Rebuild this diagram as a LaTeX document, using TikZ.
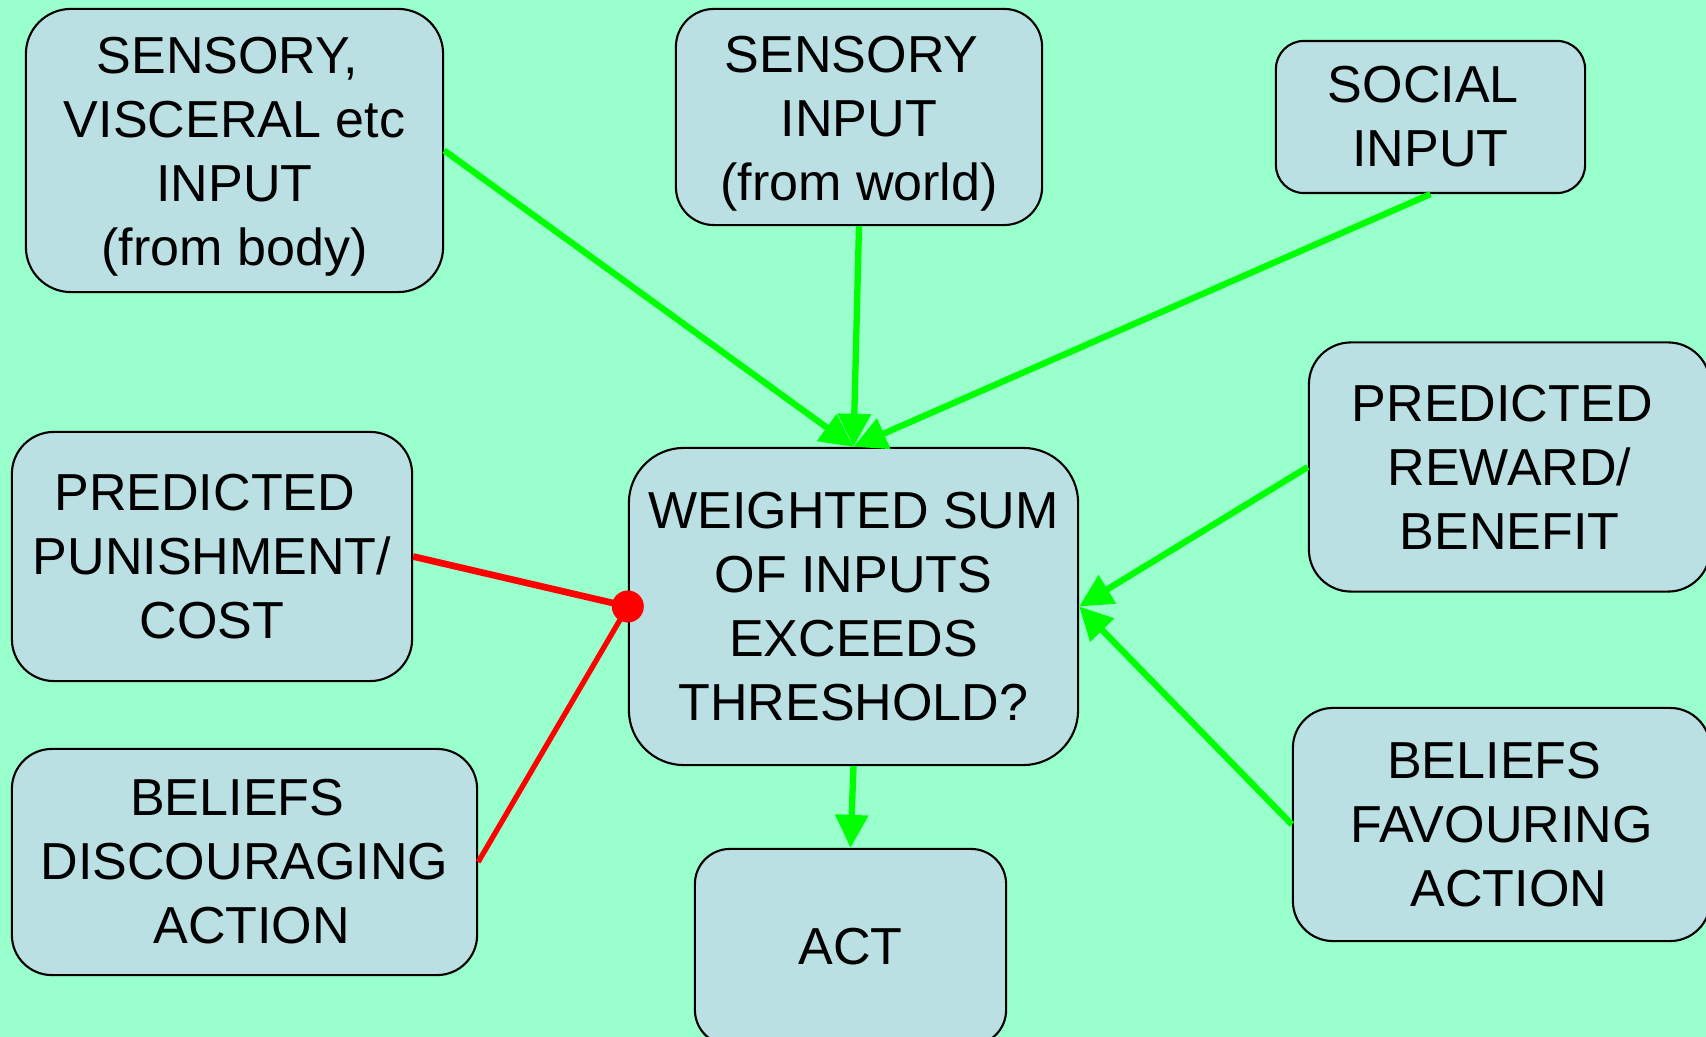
\documentclass[tikz,border=0pt]{standalone}
\usepackage{fontspec}
\setmainfont{Liberation Sans}
\usetikzlibrary{arrows.meta}
\definecolor{bg}{HTML}{99FFCC}
\definecolor{boxfill}{HTML}{BBE0E3}
\definecolor{arrgreen}{HTML}{00FF00}
\definecolor{inhred}{HTML}{FF0000}
\newcommand{\tsp}{\hspace*{0.278em}}
\begin{document}
\begin{tikzpicture}[x=0.01cm,y=-0.01cm,
  box/.style={draw=black, line width=0.6pt, fill=boxfill, align=center,
    font=\fontsize{14.8}{18.2}\selectfont, inner sep=0pt},
  boxtext/.style={align=center, font=\fontsize{14.8}{18.2}\selectfont, inner sep=0pt},
  garrow/.style={draw=arrgreen, line width=1.8pt, -{Triangle[length=3.3mm,width=3.2mm]}},
  rline/.style={draw=inhred, line width=1.8pt},
  dotstyle/.style={circle, fill=inhred, minimum size=0.32cm, inner sep=0pt}]
\useasboundingbox (0,0) rectangle (1706,1037);
\clip (0,0) rectangle (1706,1037);
\fill[bg] (0,0) rectangle (1706,1037);

\node[box, minimum width=4.17cm, minimum height=2.83cm, rounded corners=0.45cm] (body) at (234.5,150.5) {};
\node[boxtext] (bodytext) at ([yshift=-0.065cm]body.center) {SENSORY,\tsp\\VISCERAL etc\tsp\\INPUT\\(from body)};
\node[box, minimum width=3.66cm, minimum height=2.16cm, rounded corners=0.38cm] (world) at (859,117) {};
\node[boxtext] (worldtext) at ([yshift=-0.065cm]world.center) {SENSORY\tsp\\INPUT\\(from world)};
\node[box, minimum width=3.09cm, minimum height=1.52cm, rounded corners=0.28cm] (social) at (1430.5,117) {SOCIAL\tsp\\INPUT};
\node[box, minimum width=4.01cm, minimum height=2.49cm, rounded corners=0.42cm] (reward) at (1509.5,467) {PREDICTED\tsp\\REWARD/\\BENEFIT};
\node[box, minimum width=4.00cm, minimum height=2.49cm, rounded corners=0.42cm] (punish) at (212,556.5) {PREDICTED\tsp\\PUNISHMENT/\\COST};
\node[box, minimum width=4.49cm, minimum height=3.17cm, rounded corners=0.55cm] (sum) at (853.5,606.5) {WEIGHTED SUM\\OF INPUTS\tsp\\EXCEEDS\tsp\\THRESHOLD?};
\node[box, minimum width=4.65cm, minimum height=2.26cm, rounded corners=0.4cm] (discourage) at (244.5,862) {BELIEFS\tsp\\DISCOURAGING\\\tsp ACTION};
\node[box, minimum width=3.11cm, minimum height=1.96cm, rounded corners=0.35cm] (act) at (850.5,947) {ACT};
\node[box, minimum width=4.17cm, minimum height=2.33cm, rounded corners=0.4cm] (favour) at (1501.5,824.5) {BELIEFS\tsp\\FAVOURING\\\tsp ACTION};

\draw[garrow] (body.east) -- (sum.north);
\draw[garrow] (world.south) -- (sum.north);
\draw[garrow] (social.south) -- (sum.north);
\draw[garrow] (reward.west) -- (sum.east);
\draw[garrow] (favour.west) -- (sum.east);
\draw[garrow] (sum.south) -- (act.north);
\draw[rline, line width=1.9pt] (punish.east) -- (sum.west);
\draw[rline, line width=1.5pt] (discourage.east) -- (sum.west);
\node[dotstyle] (dot) at (sum.west) {};
\end{tikzpicture}
\end{document}
